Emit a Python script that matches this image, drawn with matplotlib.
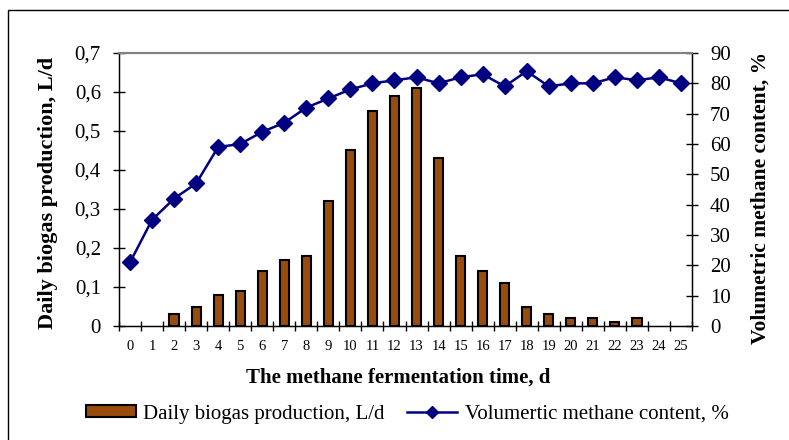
import matplotlib
matplotlib.use("Agg")
import matplotlib.pyplot as plt
from matplotlib.patches import Rectangle
from matplotlib.lines import Line2D

days = list(range(26))
biogas = [0, 0, 0.03, 0.05, 0.08, 0.09, 0.14, 0.17, 0.18, 0.32, 0.45, 0.55, 0.59,
          0.61, 0.43, 0.18, 0.14, 0.11, 0.05, 0.03, 0.02, 0.02, 0.01, 0.02, 0, 0]
methane = [21, 35, 42, 47, 59, 60, 64, 67, 72, 75, 78, 80, 81, 82, 80, 82, 83, 79,
           84, 79, 80, 80, 82, 81, 82, 80]
left_ticks = [0, 0.1, 0.2, 0.3, 0.4, 0.5, 0.6, 0.7]
left_labels = ["0", "0,1", "0,2", "0,3", "0,4", "0,5", "0,6", "0,7"]
right_ticks = [0, 10, 20, 30, 40, 50, 60, 70, 80, 90]

plt.rcParams['font.family'] = ['Liberation Serif', 'DejaVu Serif']

W, H = 789, 440
fig = plt.figure(figsize=(W / 100, H / 100), dpi=100)

# outer chart frame (cut off at right and bottom)
fig.patches.append(Rectangle((8 / W, -0.1), 1.2, (H - 10) / H + 0.1,
                             transform=fig.transFigure, fill=False,
                             edgecolor='black', linewidth=1.0))

ax = fig.add_axes([119 / W, (H - 326) / H, (692 - 119) / W, (326 - 53) / H])
bar_color = '#994C0C'
bars = ax.bar(days, biogas, width=0.42, color=bar_color, edgecolor='black',
              linewidth=1.5, zorder=2)
for b, v in zip(bars, biogas):
    if v == 0:
        b.set_linewidth(0)
ax.set_xlim(-0.5, 25.5)
ax.set_ylim(0, 0.7)
ax.set_yticks(left_ticks)
ax.set_yticklabels(left_labels, fontsize=15)
ax.set_xticks(days)
ax.set_xticklabels([str(d) for d in days], fontsize=10.5)
ax.set_xticks([d - 0.5 for d in days] + [25.5], minor=True)
ax.tick_params(axis='x', which='major', length=0, pad=10)
ax.tick_params(axis='x', which='minor', direction='inout', length=7, width=1)
ax.tick_params(axis='y', direction='inout', length=9, width=1, pad=8.5)
for s in ['left', 'bottom', 'right']:
    ax.spines[s].set_linewidth(1.0)
ax.spines['top'].set_color('#808080')
ax.spines['top'].set_linewidth(1.5)
ax.set_ylabel('Daily biogas production, L/d', fontsize=16, fontweight='bold')
ax.yaxis.set_label_coords((48 - 119) / 573, (326 - 193) / 273)
ax.set_xlabel('The methane fermentation time, d', fontsize=15, fontweight='bold')
ax.xaxis.set_label_coords((398 - 119) / 573, (326 - 378) / 273)

ax2 = ax.twinx()
ax2.plot(days, methane, color='#000080', linewidth=1.8, marker='D', markersize=8,
         zorder=3)
ax2.set_ylim(0, 90)
ax2.set_yticks(right_ticks)
ax2.set_yticklabels([str(t) for t in right_ticks], fontsize=15)
ax2.tick_params(axis='y', direction='inout', length=9, width=1, pad=8.5)
ax2.spines['top'].set_color('#808080')
ax2.spines['top'].set_linewidth(1.5)
ax2.set_ylabel('Volumetric methane content, %', fontsize=15.5, fontweight='bold')
ax2.yaxis.set_label_coords((761 - 119) / 573, (326 - 197.5) / 273)
ax2.yaxis.label.set_verticalalignment('center')
ax.yaxis.label.set_verticalalignment('center')
ax.xaxis.label.set_verticalalignment('center')

h1 = Rectangle((0, 0), 1, 1, facecolor=bar_color, edgecolor='black', linewidth=1.5)
h2 = Line2D([], [], color='#000080', linewidth=1.8, marker='D', markersize=6)
fig.legend([h1, h2], ['Daily biogas production, L/d', 'Volumertic methane content, %'],
           loc='center', bbox_to_anchor=(407 / W, (H - 414) / H), ncol=2,
           frameon=False, fontsize=15, handlelength=2.4, handleheight=0.5,
           handletextpad=0.35, columnspacing=1.1, borderpad=0)

fig.savefig('out.png', dpi=100)
